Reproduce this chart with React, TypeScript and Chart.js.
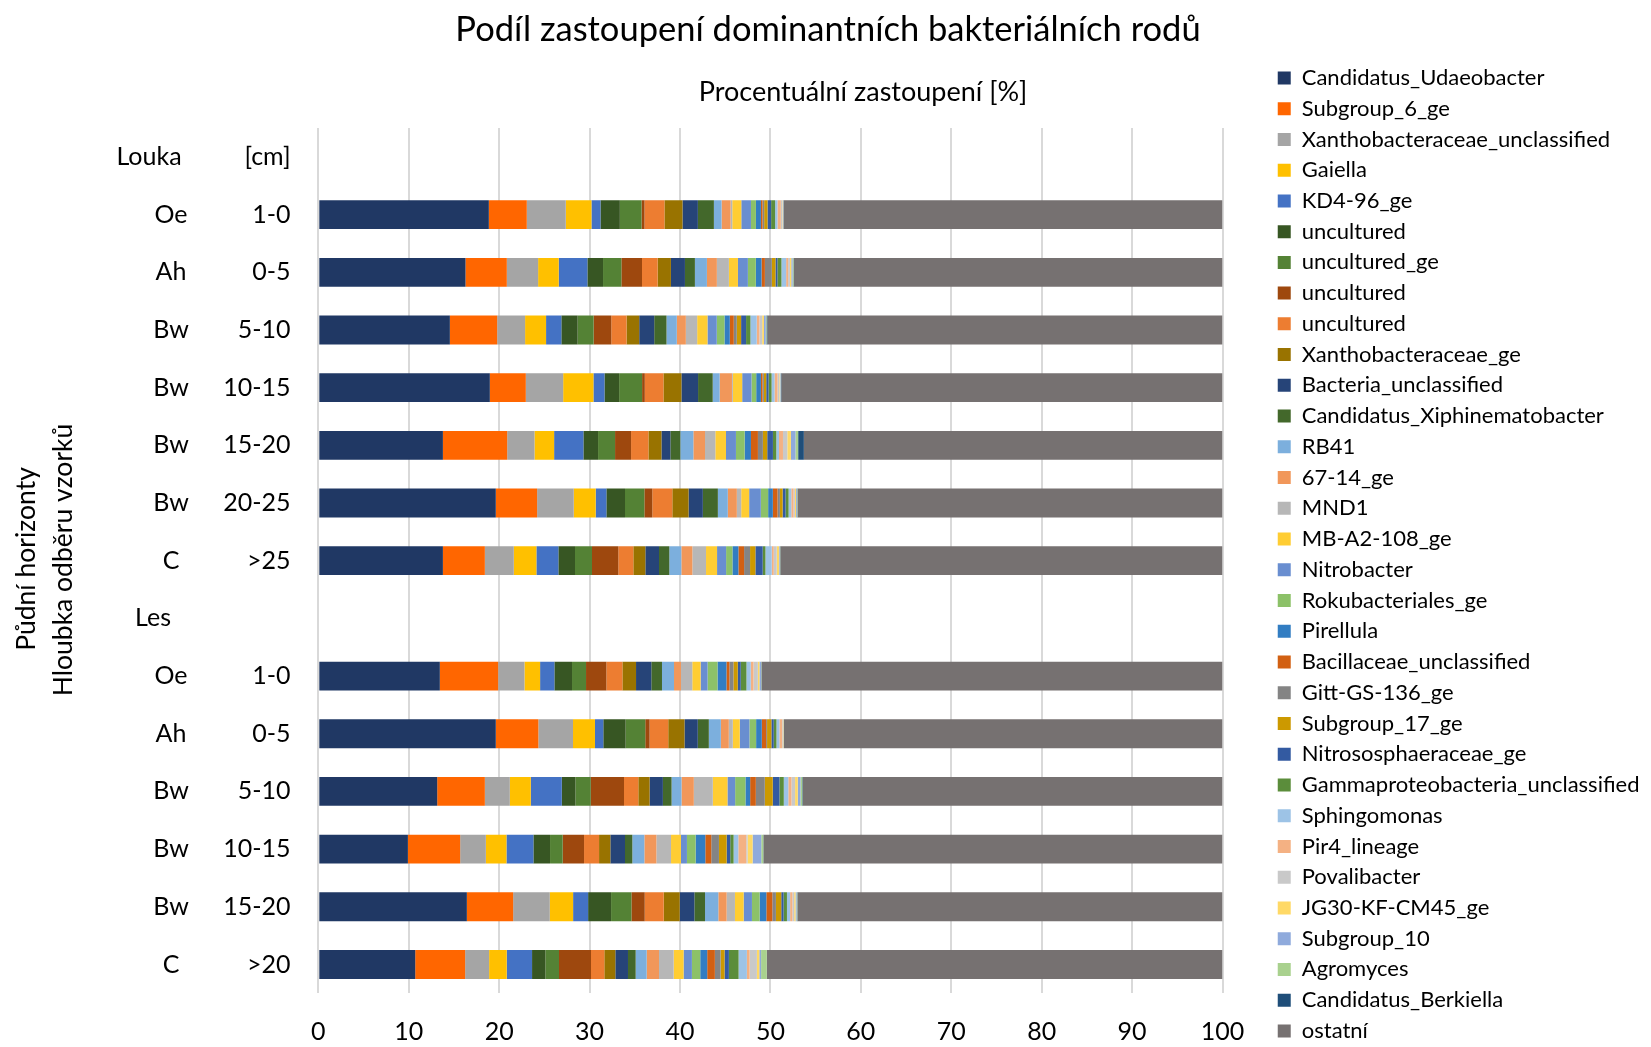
import { useEffect, useRef } from "react";
import { Chart, registerables } from "chart.js";

Chart.register(...registerables);

const FONT = 'Lato, "Noto Sans", sans-serif';

// Category rows (top to bottom)
const depthLabels = ["[cm]", "1-0", "0-5", "5-10", "10-15", "15-20", "20-25", ">25", "", "1-0", "0-5", "5-10", "10-15", "15-20", ">20"];
const horizonLabels = ["Louka", "Oe", "Ah", "Bw", "Bw", "Bw", "Bw", "C", "Les", "Oe", "Ah", "Bw", "Bw", "Bw", "C"];
const xTickValues = [0, 10, 20, 30, 40, 50, 60, 70, 80, 90, 100];

const seriesNames = [
  "Candidatus_Udaeobacter", "Subgroup_6_ge", "Xanthobacteraceae_unclassified", "Gaiella", "KD4-96_ge",
  "uncultured", "uncultured_ge", "uncultured", "uncultured", "Xanthobacteraceae_ge",
  "Bacteria_unclassified", "Candidatus_Xiphinematobacter", "RB41", "67-14_ge", "MND1",
  "MB-A2-108_ge", "Nitrobacter", "Rokubacteriales_ge", "Pirellula", "Bacillaceae_unclassified",
  "Gitt-GS-136_ge", "Subgroup_17_ge", "Nitrososphaeraceae_ge", "Gammaproteobacteria_unclassified", "Sphingomonas",
  "Pir4_lineage", "Povalibacter", "JG30-KF-CM45_ge", "Subgroup_10", "Agromyces",
  "Candidatus_Berkiella", "ostatní",
];

const seriesColors = [
  "#203864", "#FF6600", "#A5A5A5", "#FFC000", "#4472C4",
  "#375623", "#548235", "#9E480E", "#ED7D31", "#997300",
  "#264478", "#43682B", "#7CAFDD", "#F1975A", "#B7B7B7",
  "#FFCD33", "#698ED0", "#8CC168", "#327DC2", "#D26012",
  "#848484", "#CC9900", "#335AA1", "#5B8D3B", "#9DC3E6",
  "#F4B183", "#C9C9C9", "#FFD966", "#8FAADC", "#A9D18E",
  "#1F4E79", "#767171",
];

// Values per series, one entry per row (null = group header row)
const candidatusUdaeobacter = [null, 18.86, 16.28, 14.55, 18.97, 13.78, 19.63, 13.78, null, 13.44, 19.63, 13.15, 9.91, 16.43, 10.72];
const subgroup6 = [null, 4.2, 4.57, 5.23, 3.98, 7.11, 4.57, 4.64, null, 6.45, 4.71, 5.27, 5.78, 5.12, 5.52];
const xanthoUnclassified = [null, 4.31, 3.46, 3.09, 4.13, 3.02, 4.05, 3.2, null, 2.91, 3.83, 2.76, 2.84, 4.05, 2.65];
const gaiella = [null, 2.84, 2.28, 2.32, 3.35, 2.17, 2.43, 2.5, null, 1.73, 2.43, 2.32, 2.28, 2.58, 1.95];
const kd496 = [null, 1.0, 3.17, 1.69, 1.22, 3.24, 1.18, 2.43, null, 1.58, 0.92, 3.43, 2.98, 1.66, 2.8];
const uncultured1 = [null, 2.14, 1.73, 1.8, 1.62, 1.62, 2.06, 1.84, null, 1.95, 2.47, 1.51, 1.84, 2.54, 1.47];
const unculturedGe = [null, 2.4, 2.03, 1.77, 2.54, 1.88, 2.14, 1.88, null, 1.55, 2.17, 1.69, 1.4, 2.25, 1.51];
const uncultured2 = [null, 0.33, 2.28, 1.95, 0.3, 1.77, 0.88, 2.91, null, 2.25, 0.48, 3.68, 2.36, 1.47, 3.54];
const uncultured3 = [null, 2.2, 1.73, 1.69, 2.06, 1.92, 2.21, 1.66, null, 1.77, 2.06, 1.58, 1.66, 2.1, 1.47];
const xanthoGe = [null, 2.0, 1.47, 1.4, 1.99, 1.44, 1.8, 1.33, null, 1.51, 1.8, 1.25, 1.25, 1.77, 1.22];
const bacteriaUnclassified = [null, 1.7, 1.55, 1.66, 1.84, 0.99, 1.58, 1.51, null, 1.69, 1.47, 1.47, 1.62, 1.62, 1.4];
const xiphinematobacter = [null, 1.77, 1.1, 1.36, 1.62, 1.1, 1.66, 1.14, null, 1.18, 1.22, 0.96, 0.81, 1.18, 0.85];
const rb41 = [null, 0.85, 1.33, 1.14, 0.77, 1.44, 1.1, 1.33, null, 1.33, 1.33, 1.1, 1.33, 1.47, 1.22];
const g6714 = [null, 1.0, 1.1, 1.0, 1.36, 1.29, 1.0, 1.22, null, 0.77, 0.88, 1.36, 1.33, 0.92, 1.36];
const mnd1 = [null, 0.18, 1.33, 1.25, 0.1, 1.14, 0.48, 1.51, null, 1.25, 0.44, 2.1, 1.62, 0.92, 1.62];
const mbA2108 = [null, 1.0, 1.0, 1.14, 1.03, 1.18, 0.88, 1.22, null, 0.92, 0.77, 1.62, 1.1, 0.96, 1.1];
const nitrobacter = [null, 1.07, 1.1, 1.03, 1.03, 1.1, 1.29, 1.0, null, 0.77, 1.07, 0.85, 0.66, 0.92, 0.92];
const rokubacteriales = [null, 0.55, 0.88, 0.85, 0.52, 0.96, 0.81, 0.7, null, 1.1, 0.74, 1.14, 0.96, 0.85, 0.92];
const pirellula = [null, 0.55, 0.63, 0.59, 0.52, 0.7, 0.52, 0.66, null, 0.99, 0.63, 0.52, 1.07, 0.74, 0.77];
const bacillaceae = [null, 0.18, 0.37, 0.44, 0.18, 0.77, 0.52, 0.63, null, 0.33, 0.48, 0.63, 0.66, 0.66, 0.85];
const gittGS136 = [null, 0.18, 0.77, 0.33, 0.15, 0.55, 0.26, 0.66, null, 0.44, 0.1, 0.99, 0.85, 0.4, 0.63];
const subgroup17 = [null, 0.37, 0.4, 0.48, 0.26, 0.48, 0.3, 0.59, null, 0.48, 0.48, 0.88, 0.85, 0.59, 0.44];
const nitrososphaeraceae = [null, 0.4, 0.22, 0.55, 0.26, 0.63, 0.33, 0.81, null, 0.33, 0.26, 0.74, 0.4, 0.26, 0.48];
const gammaproteobacteria = [null, 0.44, 0.44, 0.48, 0.33, 0.37, 0.33, 0.3, null, 0.63, 0.3, 0.48, 0.37, 0.37, 1.07];
const sphingomonas = [null, 0.26, 0.52, 0.7, 0.33, 0.3, 0.3, 0.7, null, 0.48, 0.33, 0.5, 0.52, 0.35, 0.92];
const pir4Lineage = [null, 0.37, 0.22, 0.3, 0.33, 0.44, 0.25, 0.22, null, 0.3, 0.3, 0.35, 0.88, 0.25, 0.3];
const povalibacter = [null, 0.18, 0.2, 0.3, 0.2, 0.48, 0.15, 0.33, null, 0.48, 0.08, 0.4, 0.15, 0.2, 0.81];
const jg30 = [null, 0.05, 0.15, 0.2, 0.08, 0.4, 0.12, 0.26, null, 0.18, 0.05, 0.3, 0.55, 0.15, 0.26];
const subgroup10 = [null, 0.04, 0.15, 0.2, 0.06, 0.5, 0.1, 0.08, null, 0.18, 0.04, 0.3, 0.96, 0.12, 0.2];
const agromyces = [null, 0.02, 0.1, 0.08, 0.04, 0.3, 0.05, 0.04, null, 0.03, 0.02, 0.2, 0.22, 0.07, 0.63];
const berkiella = [null, 0.01, 0.05, 0.08, 0.03, 0.63, 0.02, 0.02, null, 0.02, 0.01, 0.07, 0.02, 0.03, 0.02];
const ostatni = [null, 48.55, 47.4, 50.35, 48.8, 46.3, 47.0, 48.9, null, 50.98, 48.5, 46.4, 50.77, 47.0, 50.38];

const seriesValues = [
  candidatusUdaeobacter, subgroup6, xanthoUnclassified, gaiella, kd496,
  uncultured1, unculturedGe, uncultured2, uncultured3, xanthoGe,
  bacteriaUnclassified, xiphinematobacter, rb41, g6714, mnd1,
  mbA2108, nitrobacter, rokubacteriales, pirellula, bacillaceae,
  gittGS136, subgroup17, nitrososphaeraceae, gammaproteobacteria, sphingomonas,
  pir4Lineage, povalibacter, jg30, subgroup10, agromyces,
  berkiella, ostatni,
];

const W = 1651;
const H = 1047;
const LEGEND_LEFT = 1269;
const LEGEND_TOP = 58.2;

const overlayPlugin = {
  id: "overlayText",
  afterLayout(chart: any) {
    const lg = chart.legend;
    if (lg) {
      lg.left = LEGEND_LEFT;
      lg.right = chart.width;
      lg.width = chart.width - LEGEND_LEFT;
      lg.top = LEGEND_TOP;
      lg.bottom = chart.height + 60;
      lg.height = lg.bottom - lg.top;
    }
  },
  afterDraw(chart: any) {
    const ctx = chart.ctx as CanvasRenderingContext2D;
    const yScale = chart.scales.y;
    ctx.save();
    ctx.fillStyle = "#000";
    ctx.textBaseline = "middle";
    ctx.textAlign = "center";
    ctx.font = `34.5px ${FONT}`;
    ctx.fillText("Podíl zastoupení dominantních bakteriálních rodů", 828, 30);
    ctx.font = `27px ${FONT}`;
    ctx.fillText("Procentuální zastoupení [%]", 863, 92);
    ctx.font = `25px ${FONT}`;
    horizonLabels.forEach((lab, i) => {
      const y = yScale.getPixelForTick(i);
      const x = lab === "Louka" ? 149 : lab === "Les" ? 153 : 171;
      ctx.fillText(lab, x, y);
    });
    ctx.font = `26.5px ${FONT}`;
    ctx.save();
    ctx.translate(26, 559);
    ctx.rotate(-Math.PI / 2);
    ctx.fillText("Půdní horizonty", 0, 0);
    ctx.restore();
    ctx.save();
    ctx.translate(63, 560);
    ctx.rotate(-Math.PI / 2);
    ctx.fillText("Hloubka odběru vzorků", 0, 0);
    ctx.restore();
    ctx.restore();
  },
};

export default function App() {
  const canvasRef = useRef<HTMLCanvasElement | null>(null);

  useEffect(() => {
    if (!canvasRef.current) return;
    Chart.defaults.font.family = FONT;
    const chart = new Chart(canvasRef.current, {
      type: "bar",
      data: {
        labels: depthLabels,
        datasets: seriesNames.map((name, i) => ({
          label: name,
          data: seriesValues[i],
          backgroundColor: seriesColors[i],
          borderWidth: 0,
          categoryPercentage: 1,
          barPercentage: 0.5,
        })),
      },
      options: {
        indexAxis: "y",
        responsive: false,
        animation: false,
        events: [],
        layout: { padding: { top: 128.1, right: 228.5, bottom: 0, left: 0 } },
        scales: {
          x: {
            stacked: true,
            min: 0,
            max: 100,
            afterBuildTicks: (s: any) => {
              s.ticks = xTickValues.map((v) => ({ value: v }));
            },
            ticks: { color: "#000", font: { size: 25 }, padding: 23.5 },
            grid: { color: "#d9d9d9", lineWidth: 2, drawTicks: false },
            border: { display: false },
            afterFit: (s: any) => {
              s.height = H - 993.3;
            },
          },
          y: {
            stacked: true,
            ticks: { color: "#000", font: { size: 25 }, padding: 27.7, autoSkip: false },
            grid: { display: false, drawTicks: false },
            border: { display: false },
            afterFit: (s: any) => {
              s.width = 318.3;
            },
          },
        },
        plugins: {
          legend: {
            display: true,
            position: "right",
            align: "start",
            maxWidth: 200,
            labels: {
              boxWidth: 13,
              boxHeight: 13,
              padding: 8.74,
              color: "#000",
              font: { size: 22 },
            },
          },
          tooltip: { enabled: false },
          title: { display: false },
        },
      } as any,
      plugins: [overlayPlugin],
    });
    return () => chart.destroy();
  }, []);

  return (
    <div style={{ position: "fixed", left: 0, top: 0, width: W, height: H, overflow: "hidden", background: "#fff" }}>
      <canvas ref={canvasRef} width={W} height={H} style={{ display: "block", width: W, height: H }} />
    </div>
  );
}
